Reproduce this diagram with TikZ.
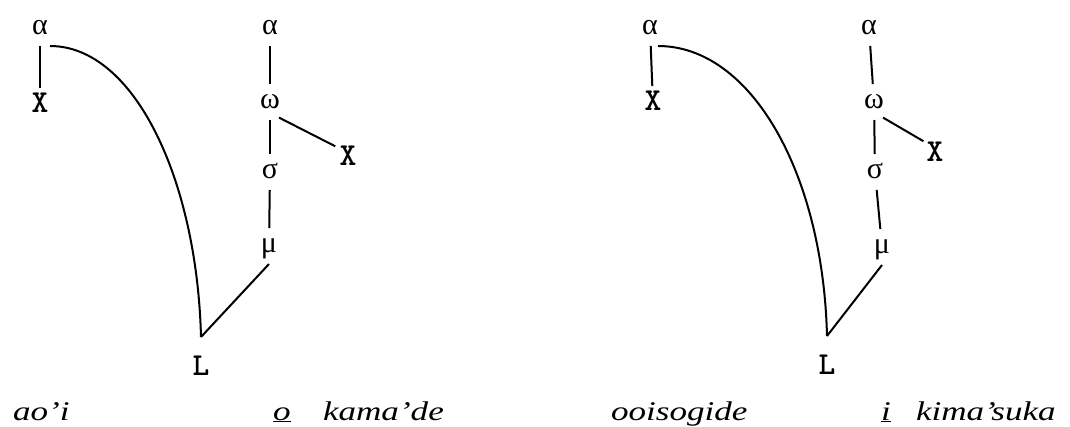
\documentclass[tikz,border=0pt]{standalone}
\usepackage{fontspec}
\setmainfont{Liberation Serif}
\newfontfamily\greekfont{Liberation Serif}
\newfontfamily\glossfont[FakeStretch=1.3]{Liberation Serif}

\begin{document}
\begin{tikzpicture}
  [x=1pt,y=-1pt,line width=2pt,
   every node/.style={circle,inner sep=0pt,minimum size=34pt,text height=13pt,text depth=0pt,
     font=\ttfamily\bfseries\fontsize{32}{32}\selectfont},
   greek/.style={font=\greekfont\fontsize{30}{30}\selectfont},
   tip/.style={minimum size=62pt},
   gloss/.style={rectangle,minimum size=0pt,anchor=base west,text height=,text depth=,
     font=\glossfont\itshape\fontsize{27}{27}\selectfont}]
  \useasboundingbox (0,0) rectangle (1070,426);

  % left tree
  \node[greek] (la1) at (40,28) {α};
  \node (lx1) at (40,106) {X};
  \node[greek] (la2) at (270,28) {α};
  \node[greek] (lw) at (270,102) {ω};
  \node[greek] (ls) at (270,172) {σ};
  \node[greek] (lm) at (269,246) {μ};
  \node (lx2) at (348,159) {X};
  \node[tip] (lL) at (201,369) {L};

  % right tree
  \node[greek] (ra1) at (650,28) {α};
  \node (rx1) at (653,104) {X};
  \node[greek] (ra2) at (869,28) {α};
  \node[greek] (rw) at (874,102) {ω};
  \node[greek] (rs) at (875,172) {σ};
  \node[greek] (rm) at (882,247) {μ};
  \node (rx2) at (935,155) {X};
  \node[tip] (rL) at (827,368) {L};

  \foreach \from/\to in {la1/lx1, la2/lw, lw/ls, ls/lm, ra1/rx1, ra2/rw, rw/rs, rs/rm}
  \draw (\from) -- (\to);

  \draw ([xshift=10pt]la1.south) .. controls +(84,0) and +(-4,-158) .. (lL.north);
  \draw ([xshift=8pt]ra1.south) .. controls +(93,0) and +(-4,-163) .. (rL.north);
  \draw (lL.north) -- (lm.south);
  \draw (rL.north) -- (rm.south);
  \draw (lw.-60) -- (lx2.135);
  \draw (rw.-60) -- (rx2.130);

  % glosses
  \node[gloss] (g1) at (12,420) {ao’i};
  \node[gloss] (g2) at (272,420) {\underline{o}};
  \node[gloss] (g3) at (322,420) {kama’de};
  \node[gloss] (g4) at (610,420) {ooisogide};
  \node[gloss] (g5) at (880,420) {\underline{i}};
  \node[gloss] (g6) at (915,420) {kima’suka};
\end{tikzpicture}
\end{document}
